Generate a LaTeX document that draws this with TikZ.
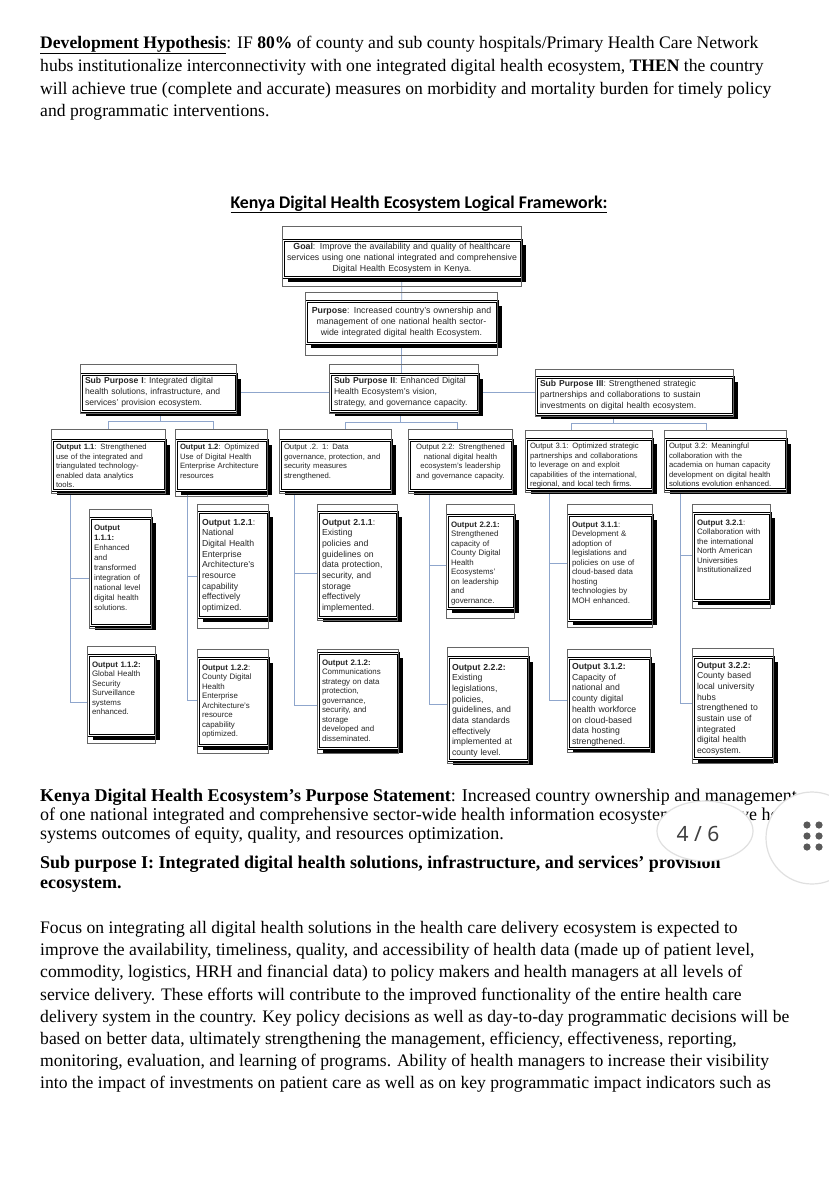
\documentclass[tikz,border=0pt]{standalone}
\usepackage{fontspec}
\setmainfont{Liberation Serif}
\setsansfont{Liberation Sans}
\newfontfamily\titlefont{Carlito}
\newfontfamily\pagefont{Noto Sans}
\usepackage{xcolor}
\usetikzlibrary{shadows,backgrounds}
\definecolor{linkblue}{RGB}{143,166,204}
\tikzset{
  fwbox/.style={draw=black, line width=1.2pt, double=white, double distance=0.6pt, fill=white,
    inner xsep=4pt, inner ysep=3pt, text=black!85,
    general shadow={fill=black, shadow xshift=4.5pt, shadow yshift=-4.5pt}},
  shell/.style={draw=black!60, line width=0.5pt},
  link/.style={draw=linkblue, line width=0.7pt},
  fs/.style 2 args={font=\sffamily\fontsize{#1}{#2}\selectfont},
  hd/.style 2 args={text height=#1pt, text depth=#2pt},
  outrow/.style={fwbox, fs={7.7}{9.5}, align=left, inner ysep=1.5pt, hd={8}{39}},
  lowsm/.style={fwbox, fs={7.9}{9.5}, align=left},
  lowlg/.style={fwbox, fs={8.7}{10.7}, align=left},
  txtline/.style={anchor=base west, inner sep=0pt, font=\fontsize{17.6}{22}\selectfont},
  txtwide/.style={txtline, font=\fontsize{18}{22}\selectfont},
}
\begin{document}
\begin{tikzpicture}[x=1pt,y=-1pt]
\useasboundingbox (0,0) rectangle (828,1200);

\node[txtline] (hyp1) at (40,48) {\underline{\textbf{Development Hypothesis}}: IF \textbf{80\%} of county and sub county hospitals/Primary Health Care Network};
\node[txtline] (hyp2) at (40,71) {hubs institutionalize interconnectivity with one integrated digital health ecosystem, \textbf{THEN} the country};
\node[txtline] (hyp3) at (40,94) {will achieve true (complete and accurate) measures on morbidity and mortality burden for timely policy};
\node[txtline] (hyp4) at (40,116) {and programmatic interventions.};

\node[anchor=base, inner sep=0pt, font=\titlefont\bfseries\fontsize{17.8}{20}\selectfont] (title) at (419,208) {\underline{Kenya Digital Health Ecosystem Logical Framework:}};

\node[fwbox, fs={8.8}{11}, align=center, text width=230pt, minimum height=37pt] (goal) at (402,258.5) {\textbf{Goal}: Improve the availability and quality of healthcare\\ services using one national integrated and comprehensive\\ Digital Health Ecosystem in Kenya.};
\node[fwbox, fs={8.8}{11}, align=center, text width=183pt, minimum height=42pt] (purp) at (401.5,322) {\textbf{Purpose}: Increased country's ownership and\\ management of one national health sector-\\ wide integrated digital health Ecosystem.};

\node[fwbox, fs={8.6}{10.8}, align=left, text width=147pt, minimum height=37pt] (sub1) at (158.5,392.5) {\textbf{Sub Purpose I}: Integrated digital\\ health solutions, infrastructure, and\\ services' provision ecosystem.};
\node[fwbox, fs={8.6}{10.8}, align=left, text width=140pt, minimum height=37pt] (sub2) at (404,392.5) {\textbf{Sub Purpose II}: Enhanced Digital\\ Health Ecosystem's vision,\\ strategy, and governance capacity.};
\node[fwbox, fs={8.6}{10.8}, align=left, text width=189pt, minimum height=37pt] (sub3) at (634.5,395.5) {\textbf{Sub Purpose III}: Strengthened strategic\\ partnerships and collaborations to sustain\\ investments on digital health ecosystem.};

\node[outrow, text width=105pt] (o11) at (108.5,465) {\textbf{Output 1.1}: Strengthened\\ use of the integrated and\\ triangulated technology-\\ enabled data analytics\\ tools.};
\node[outrow, text width=83pt] (o12) at (221.5,465) {\textbf{Output 1.2}: Optimized\\ Use of Digital Health\\ Enterprise Architecture\\ resources};
\node[outrow, text width=103pt] (o21) at (335.5,465) {Output .2. 1: Data\\ governance, protection, and\\ security measures\\ strengthened.};
\node[outrow, align=center, text width=95pt] (o22) at (460.5,465) {Output 2.2: Strengthened\\ national digital health\\ ecosystem's leadership\\ and governance capacity.};
\node[outrow, text width=118pt] (o31) at (589,464) {Output 3.1: Optimized strategic\\ partnerships and collaborations\\ to leverage on and exploit\\ capabilities of the international,\\ regional, and local tech firms.};
\node[outrow, text width=113pt] (o32) at (725.5,464) {Output 3.2: Meaningful\\ collaboration with the\\ academia on human capacity\\ development on digital health\\ solutions evolution enhanced.};

\node[lowsm, fs={7.9}{10}, text width=53pt, hd={9}{92}] (b111) at (120.5,571.5) {\textbf{Output}\\ \textbf{1.1.1:}\\ Enhanced\\ and\\ transformed\\ integration of\\ national level\\ digital health\\ solutions.};
\node[lowlg, text width=62pt, hd={10}{89}] (b121) at (233,564.5) {\textbf{Output 1.2.1}:\\ National\\ Digital Health\\ Enterprise\\ Architecture's\\ resource\\ capability\\ effectively\\ optimized.};
\node[lowlg, text width=71pt, hd={10}{89}] (b211) at (357.5,564.5) {\textbf{Output 2.1.1}:\\ Existing\\ policies and\\ guidelines on\\ data protection,\\ security, and\\ storage\\ effectively\\ implemented.};
\node[lowsm, text width=59pt, hd={9}{78}] (b221) at (480.5,561.5) {\textbf{Output 2.2.1:}\\ Strengthened\\ capacity of\\ County Digital\\ Health\\ Ecosystems'\\ on leadership\\ and\\ governance.};
\node[lowsm, text width=76pt, hd={9}{90}] (b311) at (610,567.5) {\textbf{Output 3.1.1}:\\ Development \&\\ adoption of\\ legislations and\\ policies on use of\\ cloud-based data\\ hosting\\ technologies by\\ MOH enhanced.};
\node[lowsm, text width=69pt, hd={9}{72}] (b321) at (731.5,556.5) {\textbf{Output 3.2.1}:\\ Collaboration with\\ the international\\ North American\\ Universities\\ Institutionalized};

\node[lowsm, text width=59pt, hd={9}{65}] (b112) at (121.5,695) {\textbf{Output 1.1.2:}\\ Global Health\\ Security\\ Surveillance\\ systems\\ enhanced.};
\node[lowsm, text width=62pt, hd={9}{72}] (b122) at (233,701.5) {\textbf{Output 1.2.2}:\\ County Digital\\ Health\\ Enterprise\\ Architecture's\\ resource\\ capability\\ optimized.};
\node[lowsm, text width=72pt, hd={9}{80}] (b212) at (358,700.5) {\textbf{Output 2.1.2:}\\ Communications\\ strategy on data\\ protection,\\ governance,\\ security, and\\ storage\\ developed and\\ disseminated.};
\node[lowlg, text width=72pt, hd={10}{87}] (b222) at (488,708.5) {\textbf{Output 2.2.2:}\\ Existing\\ legislations,\\ policies,\\ guidelines, and\\ data standards\\ effectively\\ implemented at\\ county level.};
\node[lowlg, text width=74pt, inner ysep=2.5pt, hd={9}{76}] (b312) at (609,703) {\textbf{Output 3.1.2:}\\ Capacity of\\ national and\\ county digital\\ health workforce\\ on cloud-based\\ data hosting\\ strengthened.};
\node[lowlg, text width=72pt, inner ysep=2pt, hd={9}{88}] (b322) at (733,707.5) {\textbf{Output 3.2.2:}\\ County based\\ local university\\ hubs\\ strengthened to\\ sustain use of\\ integrated\\ digital health\\ ecosystem.};

\foreach \nm/\up/\dn in {goal/13/9, purp/8/12, sub1/9/2, sub2/9/2, sub3/7/2,
    o11/10/3, o12/10/6, o21/10/3, o22/10/3, o31/8/3, o32/8/3,
    b111/8/3, b121/7/11, b211/7/3, b221/10/10, b311/10/7, b321/8/8,
    b112/8/8, b122/8/8, b212/3/5, b222/9/3, b312/8/4, b322/8/5}
  \draw[shell] ([yshift=\up pt]\nm.north west) rectangle ([yshift=-\dn pt]\nm.south east);

\begin{scope}[on background layer]
\fill[white] (0,0) rectangle (828,1200);
\draw[link] (goal) -- (purp);
\draw[link] (purp.south) -- (purp.south |- sub2.north);
\draw[link] (sub1.east) -- (sub2.west);
\draw[link] (sub2.east) -- (sub2.east -| sub3.west);
\draw[link] ([xshift=1.5pt]sub1.south) -- ++(0,9.5) -| ([yshift=10pt]o11.north);
\draw[link] ([xshift=1.5pt]sub1.south) ++(0,9.5) -| ([xshift=-8.5pt,yshift=10pt]o12.north);
\draw[link] ([xshift=-4pt]sub2.south) -- ++(0,11) -| ([xshift=9.5pt,yshift=10pt]o21.north);
\draw[link] ([xshift=-4pt]sub2.south) ++(0,11) -| ([xshift=-3.5pt,yshift=10pt]o22.north);
\draw[link] ([xshift=-21.5pt]sub3.south) -- ++(0,9) -| ([xshift=-18pt,yshift=8pt]o31.north);
\draw[link] ([xshift=-21.5pt]sub3.south) ++(0,9) -| ([xshift=-19.5pt,yshift=8pt]o32.north);
\draw[link] ([xshift=-38.5pt]o11.south) |- ([yshift=-6.5pt]b111.west);
\draw[link] ([xshift=-38.5pt]o11.south) |- ([yshift=-7pt]b112.west);
\draw[link] ([xshift=-34.5pt]o12.south) |- ([yshift=-11.5pt]b121.west);
\draw[link] ([xshift=-34.5pt]o12.south) |- ([yshift=1.5pt]b122.west);
\draw[link] ([xshift=-41.5pt]o21.south) |- ([yshift=-8.5pt]b211.west);
\draw[link] ([xshift=-41.5pt]o21.south) |- ([yshift=-4.5pt]b212.west);
\draw[link] ([xshift=-31.5pt]o22.south) |- ([yshift=-3.5pt]b221.west);
\draw[link] ([xshift=-31.5pt]o22.south) |- ([yshift=4.5pt]b222.west);
\draw[link] ([xshift=-40pt]o31.south) |- ([yshift=4.5pt]b311.west);
\draw[link] ([xshift=-40pt]o31.south) |- ([yshift=3pt]b312.west);
\draw[link] ([xshift=-45.5pt]o32.south) |- ([yshift=1.5pt]b321.west);
\draw[link] ([xshift=-45.5pt]o32.south) |- ([yshift=4.5pt]b322.west);
\end{scope}

\node[txtwide] (pur1) at (40,801) {\textbf{Kenya Digital Health Ecosystem's Purpose Statement}: Increased country ownership and management};
\node[txtwide] (pur2) at (40,820) {of one national integrated and comprehensive sector-wide health information ecosystem to improve health};
\node[txtwide] (pur3) at (40,839) {systems outcomes of equity, quality, and resources optimization.};
\node[txtwide] (sp1) at (40,868) {\textbf{Sub purpose I: Integrated digital health solutions, infrastructure, and services' provision}};
\node[txtwide] (sp2) at (40,888) {\textbf{ecosystem.}};

\node[txtline] (foc1) at (40,933) {Focus on integrating all digital health solutions in the health care delivery ecosystem is expected to};
\node[txtline] (foc2) at (40,955) {improve the availability, timeliness, quality, and accessibility of health data (made up of patient level,};
\node[txtline] (foc3) at (40,977) {commodity, logistics, HRH and financial data) to policy makers and health managers at all levels of};
\node[txtline] (foc4) at (40,1000) {service delivery. These efforts will contribute to the improved functionality of the entire health care};
\node[txtline] (foc5) at (40,1022) {delivery system in the country. Key policy decisions as well as day-to-day programmatic decisions will be};
\node[txtline] (foc6) at (40,1044) {based on better data, ultimately strengthening the management, efficiency, effectiveness, reporting,};
\node[txtline] (foc7) at (40,1066) {monitoring, evaluation, and learning of programs. Ability of health managers to increase their visibility};
\node[txtline] (foc8) at (40,1088) {into the impact of investments on patient care as well as on key programmatic impact indicators such as};

\draw[fill=white, draw=black!12, line width=1.2pt] (705,831) ellipse [x radius=48, y radius=30];
\draw[fill=white, draw=black!12, line width=1.2pt] (812,838) circle [radius=46];
\node[font=\pagefont\fontsize{21}{24}\selectfont, text=black!75] (pg) at (698,834) {4 / 6};
\foreach \dx in {807,819}
  \foreach \dy in {825,836,847}
    \fill[black!65] (\dx,\dy) circle [radius=3.6];
\end{tikzpicture}
\end{document}
